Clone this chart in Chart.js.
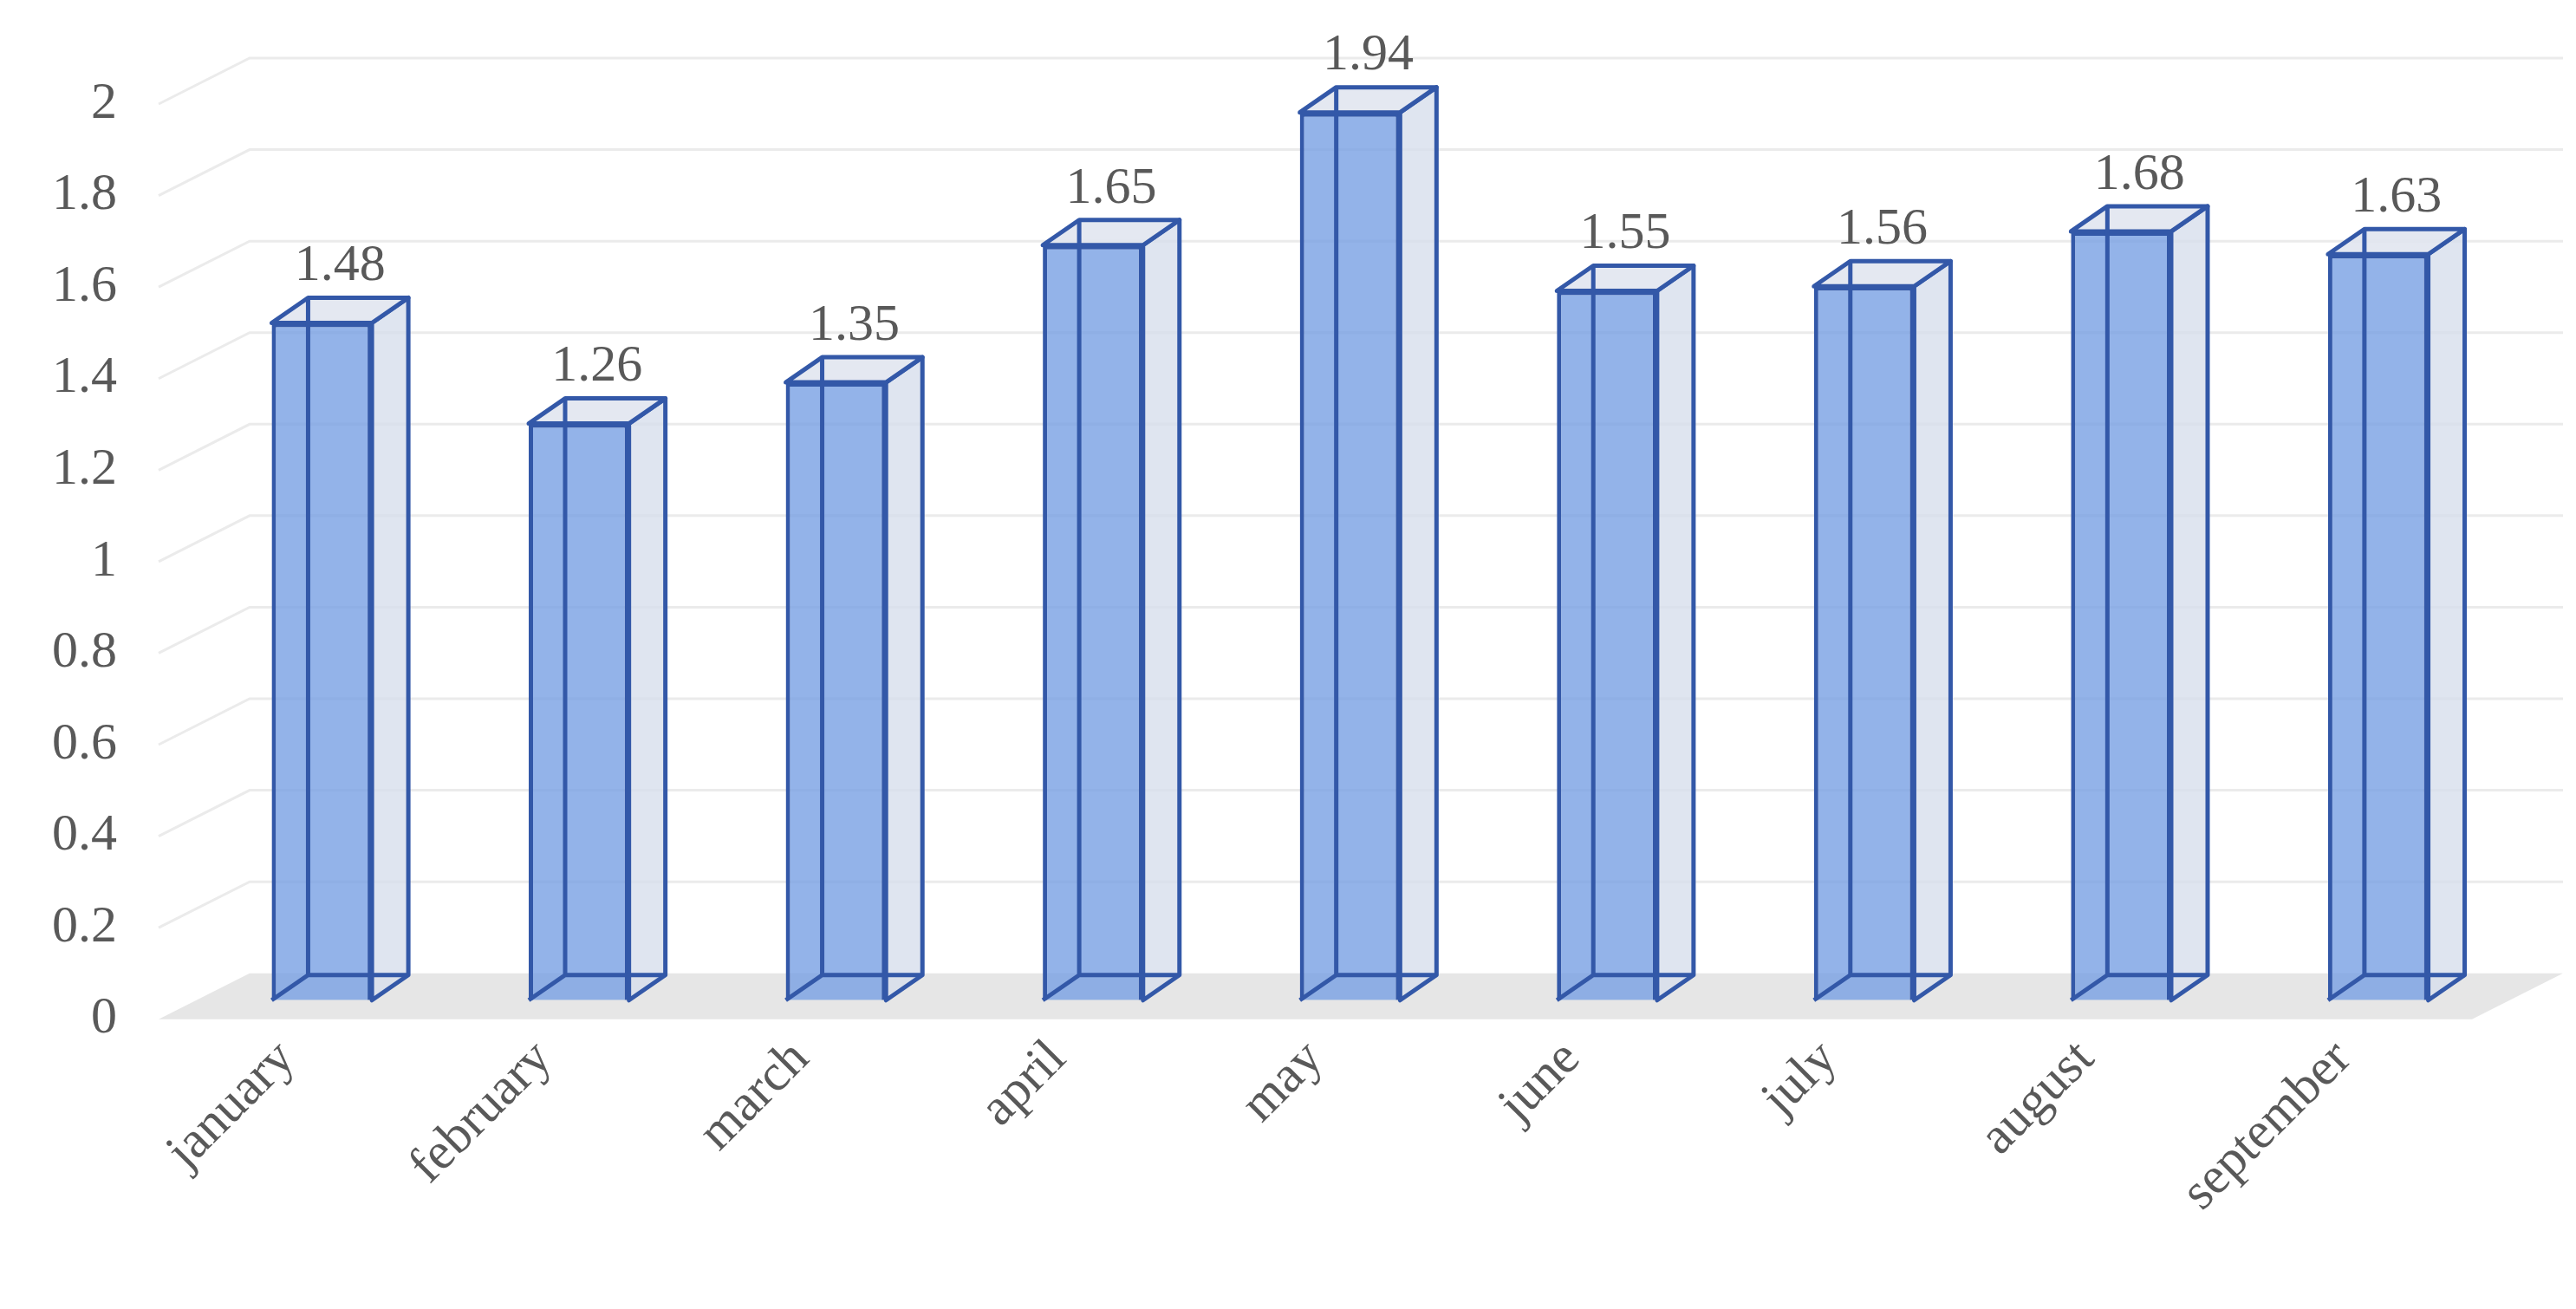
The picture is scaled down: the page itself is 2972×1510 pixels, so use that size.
<!DOCTYPE html>
<html lang="en">
<head>
  <meta charset="UTF-8">
  <title>Monthly values</title>
  <script src="https://cdn.jsdelivr.net/npm/chart.js"></script>
  <style>
    html, body { margin: 0; padding: 0; background: #fff; }
    #wrap { width: 2972px; height: 1510px; }
  </style>
</head>
<body>
  <div id="wrap"><canvas id="chart"></canvas></div>

  <script>
    const months = ['january', 'february', 'march', 'april', 'may', 'june', 'july', 'august', 'september'];
    const values = [1.48, 1.26, 1.35, 1.65, 1.94, 1.55, 1.56, 1.68, 1.63];

    const WALL_DX = 105, WALL_DY = 53;  // back wall offset
    const BAR_DX = 42, BAR_DY = 29;     // bar depth
    const SHIFT_X = 40, SHIFT_Y = -22;  // bars stand a bit into the floor
    const LINE = '#3358a8';

    // grid on the back wall plus the grey floor
    const wallPlugin = {
      id: 'wall',
      beforeDatasetsDraw(chart) {
        const { ctx, chartArea: a, scales: { y } } = chart;
        ctx.save();
        const y0 = y.getPixelForValue(0);
        ctx.fillStyle = '#e6e6e6';
        ctx.beginPath();
        ctx.moveTo(a.left, y0);
        ctx.lineTo(a.left + WALL_DX, y0 - WALL_DY);
        ctx.lineTo(a.right + WALL_DX, y0 - WALL_DY);
        ctx.lineTo(a.right, y0);
        ctx.closePath();
        ctx.fill();
        ctx.strokeStyle = '#ebebeb';
        ctx.lineWidth = 3;
        y.ticks.forEach(t => {
          if (t.value === 0) return;
          const py = y.getPixelForValue(t.value);
          ctx.beginPath();
          ctx.moveTo(a.left, py);
          ctx.lineTo(a.left + WALL_DX, py - WALL_DY);
          ctx.lineTo(a.right + WALL_DX, py - WALL_DY);
          ctx.stroke();
        });
        ctx.restore();
        // shift the front faces drawn by Chart.js
        ctx.save();
        ctx.translate(SHIFT_X, SHIFT_Y);
      }
    };

    // side, top and hidden edges of each bar, plus the value labels
    const boxPlugin = {
      id: 'box',
      afterDatasetsDraw(chart) {
        const { ctx } = chart;
        const meta = chart.getDatasetMeta(0);
        ctx.lineWidth = 5;
        ctx.strokeStyle = LINE;
        ctx.lineJoin = 'round';
        meta.data.forEach((bar, i) => {
          const l = bar.x - bar.width / 2, r = bar.x + bar.width / 2;
          const t = bar.y, b = bar.base;
          ctx.fillStyle = 'rgba(215,222,236,0.8)';
          ctx.beginPath();
          ctx.moveTo(r, t); ctx.lineTo(r + BAR_DX, t - BAR_DY);
          ctx.lineTo(r + BAR_DX, b - BAR_DY); ctx.lineTo(r, b);
          ctx.closePath(); ctx.fill(); ctx.stroke();
          ctx.fillStyle = 'rgba(225,230,240,0.9)';
          ctx.beginPath();
          ctx.moveTo(l, t); ctx.lineTo(l + BAR_DX, t - BAR_DY);
          ctx.lineTo(r + BAR_DX, t - BAR_DY); ctx.lineTo(r, t);
          ctx.closePath(); ctx.fill(); ctx.stroke();
          ctx.beginPath();
          ctx.moveTo(l + BAR_DX, t - BAR_DY); ctx.lineTo(l + BAR_DX, b - BAR_DY);
          ctx.lineTo(r + BAR_DX, b - BAR_DY);
          ctx.moveTo(l, b); ctx.lineTo(l + BAR_DX, b - BAR_DY);
          ctx.stroke();
          ctx.fillStyle = '#595959';
          ctx.font = '60px "Liberation Serif"';
          ctx.textAlign = 'center';
          ctx.textBaseline = 'bottom';
          ctx.fillText(values[i].toFixed(2), bar.x + BAR_DX / 2, t - BAR_DY - 6);
        });
        ctx.restore();
      }
    };

    new Chart(document.getElementById('chart'), {
      type: 'bar',
      data: {
        labels: months,
        datasets: [{
          data: values,
          backgroundColor: 'rgba(120,160,228,0.8)',
          borderColor: LINE,
          borderWidth: 5,
          categoryPercentage: 1,
          barPercentage: 0.39
        }]
      },
      options: {
        responsive: true,
        maintainAspectRatio: false,
        animation: false,
        layout: { padding: { top: 120, right: 120, left: 20, bottom: 95 } },
        plugins: { legend: { display: false }, tooltip: { enabled: false } },
        scales: {
          y: {
            min: 0, max: 2,
            ticks: { stepSize: 0.2, color: '#595959', padding: 40,
              font: { family: 'Liberation Serif', size: 60 },
              callback: v => Math.round(v * 10) / 10 },
            grid: { display: false },
            border: { display: false }
          },
          x: {
            ticks: { color: '#595959', maxRotation: 45, minRotation: 45,
              font: { family: 'Liberation Serif', size: 60 } },
            grid: { display: false },
            border: { display: false }
          }
        }
      },
      plugins: [wallPlugin, boxPlugin]
    });
  </script>
</body>
</html>
